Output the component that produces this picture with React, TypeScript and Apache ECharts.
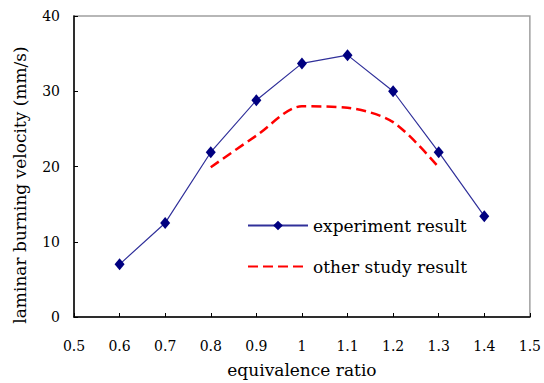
import React, { useEffect, useRef } from "react";
import * as echarts from "echarts";

const ratioExp = [0.6, 0.7, 0.8, 0.9, 1.0, 1.1, 1.2, 1.3, 1.4];
const velocityExp = [7, 12.5, 21.9, 28.8, 33.7, 34.8, 30, 21.9, 13.4];
const ratioOther = [0.8, 0.9, 1.0, 1.1, 1.2, 1.3];
const velocityOther = [19.9, 24.1, 28, 27.8, 25.9, 19.9];
const xTicks = { min: 0.5, max: 1.5, step: 0.1 };
const yTicks = { min: 0, max: 40, step: 10 };

const FONT = "DejaVu Serif";

export default function App() {
  const ref = useRef<HTMLDivElement>(null);
  useEffect(() => {
    if (!ref.current) return;
    const chart = echarts.init(ref.current, null, { renderer: "svg" });
    chart.setOption({
      animation: false,
      backgroundColor: "#ffffff",
      grid: {
        left: 74,
        right: 14,
        top: 16,
        bottom: 66,
        show: true,
        borderColor: "#a0a0a0",
        borderWidth: 1.5,
        backgroundColor: "transparent",
      },
      legend: [
        {
          data: ["experiment result"],
          left: 247,
          top: 217,
          padding: 0,
          itemWidth: 60,
          itemHeight: 12,
          textStyle: { fontFamily: FONT, fontSize: 17, color: "#000" },
        },
        {
          data: ["other study result"],
          left: 247,
          top: 258,
          padding: 0,
          itemWidth: 60,
          itemHeight: 12,
          itemStyle: { opacity: 0 },
          textStyle: { fontFamily: FONT, fontSize: 17, color: "#000" },
        },
      ],
      xAxis: {
        type: "value",
        min: xTicks.min,
        max: xTicks.max,
        interval: xTicks.step,
        name: "equivalence ratio",
        nameLocation: "middle",
        nameGap: 44,
        nameTextStyle: { fontFamily: FONT, fontSize: 17, color: "#000" },
        axisLine: { show: true, lineStyle: { color: "#000", width: 1.5 } },
        axisTick: { show: true, inside: true, length: 4, lineStyle: { color: "#000" } },
        axisLabel: {
          margin: 22,
          fontFamily: FONT,
          fontSize: 14,
          color: "#000",
          formatter: (v: number) => String(Math.round(v * 10) / 10),
        },
        splitLine: { show: false },
      },
      yAxis: {
        type: "value",
        min: yTicks.min,
        max: yTicks.max,
        interval: yTicks.step,
        axisLine: { show: true, lineStyle: { color: "#000", width: 1.5 } },
        axisTick: { show: true, inside: true, length: 4, lineStyle: { color: "#000" } },
        axisLabel: { margin: 14, fontFamily: FONT, fontSize: 14, color: "#000" },
        splitLine: { show: false },
      },
      graphic: [
        {
          type: "text",
          x: 20,
          y: 185,
          rotation: Math.PI / 2,
          style: {
            text: "laminar burning velocity (mm/s)",
            fontFamily: FONT,
            fontSize: 17,
            fill: "#000",
            align: "center",
            verticalAlign: "middle",
          },
        },
      ],
      series: [
        {
          name: "experiment result",
          type: "line",
          data: ratioExp.map((x, i) => [x, velocityExp[i]]),
          symbol: "diamond",
          symbolSize: [10, 12],
          itemStyle: { color: "#000080" },
          lineStyle: { color: "#30309a", width: 1.2 },
          z: 3,
        },
        {
          name: "other study result",
          type: "line",
          data: ratioOther.map((x, i) => [x, velocityOther[i]]),
          symbol: "none",
          smooth: 0.3,
          itemStyle: { color: "#ff0000" },
          lineStyle: { color: "#ff0000", width: 2.5, type: [10, 5] },
          z: 2,
        },
      ],
    });
    return () => chart.dispose();
  }, []);
  return <div ref={ref} style={{ width: 544, height: 383, position: "absolute", left: 0, top: 0 }} />;
}
